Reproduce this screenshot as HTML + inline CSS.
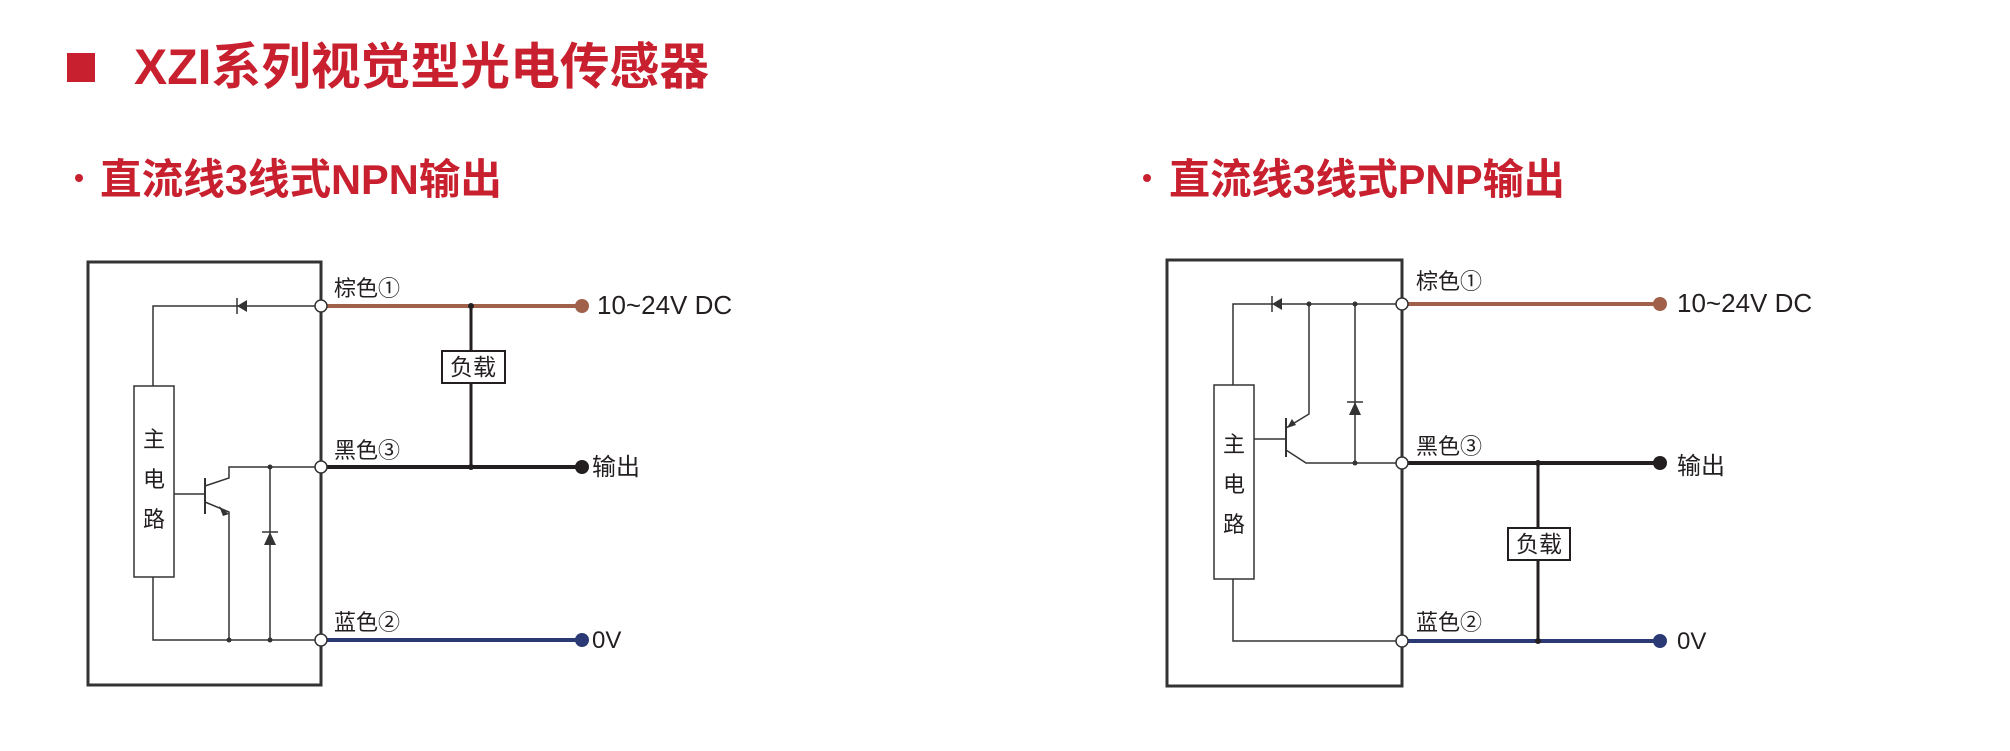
<!DOCTYPE html>
<html><head><meta charset="utf-8"><style>
html,body{margin:0;padding:0;background:#fff;}
svg{display:block;}
text{font-family:"Liberation Sans","Noto Sans CJK SC",sans-serif;}
</style></head><body>
<svg width="2010" height="751" viewBox="0 0 2010 751" xmlns="http://www.w3.org/2000/svg">
<rect x="67" y="53" width="28" height="29" fill="#c8202f"/>
<text x="134" y="84" font-size="50" font-weight="bold" fill="#c8202f" textLength="575" lengthAdjust="spacingAndGlyphs">XZI系列视觉型光电传感器</text>
<circle cx="79" cy="178" r="4" fill="#c8202f"/>
<text x="100" y="194" font-size="42" font-weight="bold" fill="#c8202f" textLength="402" lengthAdjust="spacingAndGlyphs">直流线3线式NPN输出</text>
<circle cx="1147" cy="178" r="4" fill="#c8202f"/>
<text x="1169" y="194" font-size="42" font-weight="bold" fill="#c8202f" textLength="396" lengthAdjust="spacingAndGlyphs">直流线3线式PNP输出</text>

<!-- LEFT NPN -->
<g fill="none" stroke="#333">
<rect x="88" y="262" width="233" height="423" stroke-width="3"/>
<g stroke-width="1.5">
<polyline points="321,306 153,306 153,386"/>
<rect x="134" y="386" width="40" height="191"/>
<polyline points="153,577 153,640 321,640"/>
<line x1="174" y1="494" x2="205" y2="494"/>
<line x1="205" y1="478" x2="205" y2="514" stroke-width="2"/>
<polyline points="205,486 229,478 229,467 321,467"/>
<polyline points="205,502 229,512 229,640"/>
<line x1="270" y1="467" x2="270" y2="640"/>
<line x1="262" y1="532" x2="278" y2="532"/>
<line x1="237" y1="298" x2="237" y2="314"/>
</g>
</g>
<polygon points="229,514 219,506 223,516" fill="#333"/>
<polygon points="270,532 264,545 276,545" fill="#333"/>
<polygon points="237,306 247,300 247,312" fill="#333"/>
<g fill="#333"><circle cx="270" cy="467" r="2.5"/><circle cx="270" cy="640" r="2.5"/><circle cx="229" cy="640" r="2.5"/></g>
<line x1="322" y1="306" x2="580" y2="306" stroke="#a0604a" stroke-width="4"/>
<line x1="322" y1="467" x2="580" y2="467" stroke="#231f20" stroke-width="4"/>
<line x1="322" y1="640" x2="580" y2="640" stroke="#2b3a75" stroke-width="4"/>
<line x1="471" y1="306" x2="471" y2="467" stroke="#231f20" stroke-width="3"/>
<circle cx="471" cy="306" r="3" fill="#231f20"/><circle cx="471" cy="467" r="3" fill="#231f20"/>
<rect x="442" y="351" width="63" height="32" fill="#fff" stroke="#231f20" stroke-width="2"/>
<text x="473" y="375" font-size="23" fill="#231f20" text-anchor="middle">负载</text>
<circle cx="582" cy="306" r="7" fill="#a0604a"/>
<circle cx="582" cy="467" r="7" fill="#231f20"/>
<circle cx="582" cy="640" r="7" fill="#2b3a75"/>
<g fill="#fff" stroke="#333" stroke-width="1.5"><circle cx="321" cy="306" r="6"/><circle cx="321" cy="467" r="6"/><circle cx="321" cy="640" r="6"/></g>
<g font-size="22" fill="#231f20">
<text x="334" y="296">棕色①</text>
<text x="334" y="458">黑色③</text>
<text x="334" y="630">蓝色②</text>
<text x="597" y="314" font-size="26">10~24V DC</text>
<text x="592" y="475" font-size="24">输出</text>
<text x="592" y="648" font-size="24">0V</text>
<text x="154" y="447" text-anchor="middle">主</text>
<text x="154" y="487" text-anchor="middle">电</text>
<text x="154" y="527" text-anchor="middle">路</text>
</g>

<!-- RIGHT PNP -->
<g fill="none" stroke="#333">
<rect x="1167" y="260" width="235" height="426" stroke-width="3"/>
<g stroke-width="1.5">
<polyline points="1402,304 1233,304 1233,385"/>
<rect x="1214" y="385" width="40" height="194"/>
<polyline points="1233,579 1233,641 1402,641"/>
<line x1="1254" y1="439" x2="1286" y2="439"/>
<line x1="1286" y1="418" x2="1286" y2="457" stroke-width="2"/>
<polyline points="1286,428 1309,414 1309,304"/>
<polyline points="1286,450 1306,463 1402,463"/>
<line x1="1355" y1="304" x2="1355" y2="463"/>
<line x1="1347" y1="402" x2="1363" y2="402"/>
<line x1="1272" y1="296" x2="1272" y2="312"/>
</g>
</g>
<polygon points="1287,428 1292,419 1296,425" fill="#333"/>
<polygon points="1355,402 1349,415 1361,415" fill="#333"/>
<polygon points="1272,304 1282,298 1282,310" fill="#333"/>
<g fill="#333"><circle cx="1309" cy="304" r="2.5"/><circle cx="1355" cy="304" r="2.5"/><circle cx="1355" cy="463" r="2.5"/></g>
<line x1="1403" y1="304" x2="1658" y2="304" stroke="#a0604a" stroke-width="4"/>
<line x1="1403" y1="463" x2="1658" y2="463" stroke="#231f20" stroke-width="4"/>
<line x1="1403" y1="641" x2="1658" y2="641" stroke="#2b3a75" stroke-width="4"/>
<line x1="1538" y1="463" x2="1538" y2="641" stroke="#231f20" stroke-width="3"/>
<circle cx="1538" cy="463" r="3" fill="#231f20"/><circle cx="1538" cy="641" r="3" fill="#231f20"/>
<rect x="1508" y="528" width="62" height="32" fill="#fff" stroke="#231f20" stroke-width="2"/>
<text x="1539" y="552" font-size="23" fill="#231f20" text-anchor="middle">负载</text>
<circle cx="1660" cy="304" r="7" fill="#a0604a"/>
<circle cx="1660" cy="463" r="7" fill="#231f20"/>
<circle cx="1660" cy="641" r="7" fill="#2b3a75"/>
<g fill="#fff" stroke="#333" stroke-width="1.5"><circle cx="1402" cy="304" r="6"/><circle cx="1402" cy="463" r="6"/><circle cx="1402" cy="641" r="6"/></g>
<g font-size="22" fill="#231f20">
<text x="1416" y="289">棕色①</text>
<text x="1416" y="454">黑色③</text>
<text x="1416" y="630">蓝色②</text>
<text x="1677" y="312" font-size="26">10~24V DC</text>
<text x="1677" y="474" font-size="24">输出</text>
<text x="1677" y="649" font-size="24">0V</text>
<text x="1234" y="452" text-anchor="middle">主</text>
<text x="1234" y="492" text-anchor="middle">电</text>
<text x="1234" y="532" text-anchor="middle">路</text>
</g>
</svg>
</body></html>
